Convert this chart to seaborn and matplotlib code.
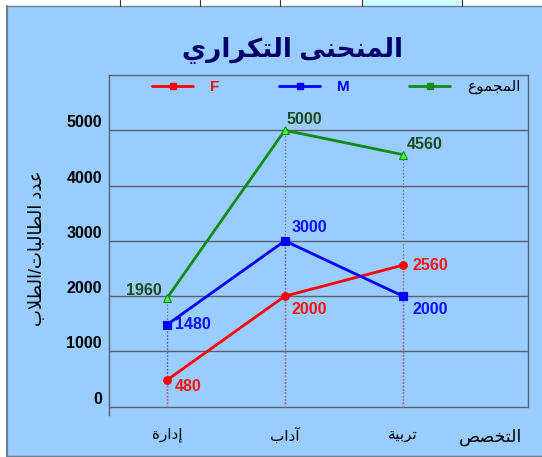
import numpy as np
import pandas as pd
import seaborn as sns
import matplotlib
matplotlib.use("Agg")
import matplotlib.pyplot as plt
from matplotlib.patches import Rectangle
from matplotlib.lines import Line2D

sns.set_style("white")
plt.rcParams['font.family'] = ['Liberation Sans', 'DejaVu Sans']

# data
majors = ['إدارة', 'آداب', 'تربية']
female = [480, 2000, 2560]
male = [1480, 3000, 2000]
total = [1960, 5000, 4560]
series_names = ['F', 'M', 'المجموع']
title = 'المنحنى التكراري'
ylabel = 'عدد الطالبات/الطلاب'
xlabel = 'التخصص'
yticks = [0, 1000, 2000, 3000, 4000, 5000]

# arabic shaping (matplotlib has no bidi / joining support)
FORMS = {  # isolated, final, initial, medial
    'ا': ('\uFE8D', '\uFE8E', None, None),
    'آ': ('\uFE81', '\uFE82', None, None),
    'إ': ('\uFE87', '\uFE88', None, None),
    'ب': ('\uFE8F', '\uFE90', '\uFE91', '\uFE92'),
    'ة': ('\uFE93', '\uFE94', None, None),
    'ت': ('\uFE95', '\uFE96', '\uFE97', '\uFE98'),
    'ج': ('\uFE9D', '\uFE9E', '\uFE9F', '\uFEA0'),
    'ح': ('\uFEA1', '\uFEA2', '\uFEA3', '\uFEA4'),
    'خ': ('\uFEA5', '\uFEA6', '\uFEA7', '\uFEA8'),
    'د': ('\uFEA9', '\uFEAA', None, None),
    'ر': ('\uFEAD', '\uFEAE', None, None),
    'ص': ('\uFEB9', '\uFEBA', '\uFEBB', '\uFEBC'),
    'ط': ('\uFEC1', '\uFEC2', '\uFEC3', '\uFEC4'),
    'ع': ('\uFEC9', '\uFECA', '\uFECB', '\uFECC'),
    'ك': ('\uFED9', '\uFEDA', '\uFEDB', '\uFEDC'),
    'ل': ('\uFEDD', '\uFEDE', '\uFEDF', '\uFEE0'),
    'م': ('\uFEE1', '\uFEE2', '\uFEE3', '\uFEE4'),
    'ن': ('\uFEE5', '\uFEE6', '\uFEE7', '\uFEE8'),
    'و': ('\uFEED', '\uFEEE', None, None),
    'ى': ('\uFEEF', '\uFEF0', None, None),
    'ي': ('\uFEF1', '\uFEF2', '\uFEF3', '\uFEF4'),
}
LAM_ALEF = {'ا': ('\uFEFB', '\uFEFC'), 'آ': ('\uFEF5', '\uFEF6'), 'إ': ('\uFEF9', '\uFEFA')}


def shape_ar(s):
    out = []
    i = 0
    n = len(s)
    while i < n:
        c = s[i]
        if c not in FORMS:
            out.append(c)
            i += 1
            continue
        prev = s[i - 1] if i > 0 else ''
        joins_prev = prev in FORMS and FORMS[prev][2] is not None
        if c == 'ل' and i + 1 < n and s[i + 1] in LAM_ALEF:
            out.append(LAM_ALEF[s[i + 1]][1 if joins_prev else 0])
            i += 2
            continue
        nxt = s[i + 1] if i + 1 < n else ''
        joins_next = FORMS[c][2] is not None and nxt in FORMS
        f = FORMS[c]
        if joins_prev and joins_next:
            out.append(f[3])
        elif joins_prev:
            out.append(f[1])
        elif joins_next:
            out.append(f[2])
        else:
            out.append(f[0])
        i += 1
    return ''.join(out[::-1])


df = pd.DataFrame({
    'pos': list(range(len(majors))) * 3,
    'value': female + male + total,
    'series': [series_names[0]] * 3 + [series_names[1]] * 3 + [series_names[2]] * 3,
})

colors = {'F': '#ff0000', 'M': '#0000ff', 'المجموع': '#148a14'}
drop_colors = {'F': '#e06070', 'M': '#5060e0', 'المجموع': '#707888'}
markers = {'F': 'o', 'M': 's', 'المجموع': '^'}
mfc = {'F': '#ff0000', 'M': '#0000ff', 'المجموع': '#44ff44'}

fig = plt.figure(figsize=(5.42, 4.57), dpi=100, facecolor='#99ccff')
# white table strip on top + panel border
fig.patches.append(Rectangle((0, 0.987), 1, 0.013, transform=fig.transFigure,
                             facecolor='white', edgecolor='none', zorder=-5))
fig.patches.append(Rectangle((362 / 542, 0.987), 100 / 542, 0.013, transform=fig.transFigure,
                             facecolor='#ccffff', edgecolor='none', zorder=-4))
fig.patches.append(Rectangle((0, 0), 0.013, 1, transform=fig.transFigure,
                             facecolor='white', edgecolor='none', zorder=-5))
fig.lines.append(Line2D([0.013, 0.013], [0.0, 0.987], transform=fig.transFigure,
                        color='#6f7f90', lw=1.5))
fig.lines.append(Line2D([0.013, 1.0], [0.987, 0.987], transform=fig.transFigure,
                        color='#6f7f90', lw=1.0))
fig.lines.append(Line2D([0.013, 1.0], [0.003, 0.003], transform=fig.transFigure,
                        color='#6f7f90', lw=1.0))
for xp in [120, 200, 280, 362, 462]:
    fig.lines.append(Line2D([xp / 542, xp / 542], [0.987, 1.0], transform=fig.transFigure,
                            color='#333333', lw=0.8))

ax = fig.add_axes([109 / 542, 1 - 415 / 457, 419 / 542, 340 / 457])
ax.set_facecolor('#99ccff')

# drop lines
for name in reversed(series_names):
    sub = df[df['series'] == name]
    ax.vlines(sub['pos'], 0, sub['value'], colors=drop_colors[name], linestyles=(0, (1.2, 1.5)),
              lw=0.9, zorder=2)

for name in series_names:
    sub = df[df['series'] == name]
    sns.lineplot(data=sub, x='pos', y='value', ax=ax, color=colors[name], lw=2.0,
                 marker=markers[name], markersize=5.5, markerfacecolor=mfc[name],
                 markeredgecolor=colors[name], markeredgewidth=0.8, zorder=4,
                 legend=False)

ax.set_xlim(-0.49, 3.06)
ax.set_ylim(-150, 6000)
ax.set_yticks(yticks)
ax.set_yticklabels([str(v) for v in yticks], fontsize=11.5, fontweight='bold', color='black')
for lab in ax.get_yticklabels():
    lab.set_verticalalignment('bottom')
ax.set_xticks(range(len(majors)))
ax.set_xticklabels([shape_ar(m) for m in majors], fontsize=11, color='black')
ax.tick_params(axis='x', length=0, pad=9)
ax.tick_params(axis='y', length=6, width=1, color='#555566', direction='out', pad=-1)
ax.set_xlabel('')
ax.set_ylabel(shape_ar(ylabel), fontsize=13, color='black')
ax.yaxis.set_label_coords(-0.15, 0.49)

for v in yticks:
    ax.axhline(v, color='#5a6070', lw=1.0, zorder=1)
for side in ['left', 'right', 'top']:
    ax.spines[side].set_color('#5a6070')
    ax.spines[side].set_linewidth(1.0)
ax.spines['right'].set_bounds(0, 6000)
ax.spines['bottom'].set_visible(False)

fig.text(490 / 542, 1 - 437 / 457, shape_ar(xlabel), fontsize=12.5, ha='center', va='center',
         color='black')
fig.text(293 / 542, 1 - 50 / 457, shape_ar(title), fontsize=19, fontweight='bold',
         color='#000066', ha='center', va='center')

# value labels
lab_cols = {'F': '#ff1010', 'M': '#1010ff', 'المجموع': '#1f4a1f'}
offsets = {
    'F': [(5.8, -4.3, 'left'), (5, -9.4, 'left'), (7.2, 0, 'left')],
    'M': [(5.8, 0, 'left'), (5, 9.4, 'left'), (7.2, -9.4, 'left')],
    'المجموع': [(-3.6, 5.8, 'right'), (1.4, 8, 'left'), (2.9, 7.2, 'left')],
}
for name in series_names:
    sub = df[df['series'] == name].reset_index(drop=True)
    for i, row in sub.iterrows():
        dx, dy, ha = offsets[name][i]
        ax.annotate(str(row['value']), (row['pos'], row['value']), xytext=(dx, dy),
                    textcoords='offset points', ha=ha, va='center', fontsize=11.5,
                    fontweight='bold', color=lab_cols[name], zorder=5)

# legend
handles = [Line2D([], [], color=colors[n], lw=2, marker='s', markersize=5,
                  markerfacecolor=colors[n]) for n in series_names]
leg = fig.legend(handles, [shape_ar(n) for n in series_names], ncol=3, frameon=False,
                 loc='center left', bbox_to_anchor=(152 / 542, 1 - 87 / 457),
                 handlelength=2.7, handletextpad=1.1, columnspacing=3.9, fontsize=11,
                 borderaxespad=0, borderpad=0)
for t, n in zip(leg.get_texts(), series_names):
    if n in ('F', 'M'):
        t.set_color(colors[n])
        t.set_fontweight('bold')
    else:
        t.set_color('black')

fig.savefig('out.png', dpi=100, facecolor=fig.get_facecolor())
